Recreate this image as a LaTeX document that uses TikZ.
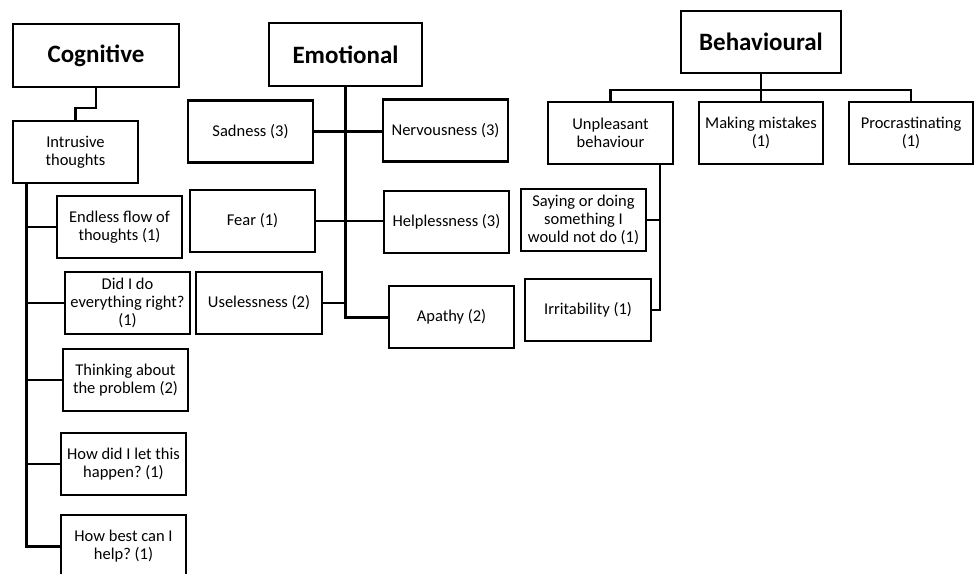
\documentclass[tikz,border=0pt]{standalone}
\usepackage{fontspec}
\setmainfont{Carlito}
\usetikzlibrary{positioning}
\frenchspacing

\begin{document}
\begin{tikzpicture}[x=1pt,y=-1pt,
  box/.style={draw,line width=2.2pt,minimum width=125pt,minimum height=62pt,inner sep=2pt,align=center,font=\fontsize{16.5}{18}\selectfont},
  title/.style={draw,line width=2.2pt,minimum height=63pt,font=\fontsize{25}{28}\selectfont\bfseries},
  link/.style={line width=2.2pt},
  trunk/.style={line width=3pt}]
\useasboundingbox (0,0) rectangle (974,573);

\node[title,minimum width=166pt] (cog) at (96,55.5) {Cognitive};
\node[title,minimum width=153pt] (emo) at (345.5,54.5) {Emotional};
\node[title,minimum width=160pt,minimum height=62pt] (beh) at (761,42) {Behavioural};

\node[box] (intr) at (75.5,152) {Intrusive\\thoughts};
\node[box] (endl) at (119.5,227) {Endless flow of\\thoughts (1)};
\node[box] (didi) at (127.5,303) {Did I do\\everything right?\\(1)};
\node[box] (think) at (125.5,380) {Thinking about\\the problem (2)};
\node[box] (howd) at (123.5,464) {How did I let this\\happen? (1)};
\node[box] (howb) at (123.5,546) {How best can I\\help? (1)};

\node[box] (sad) at (250.5,131.5) {Sadness (3)};
\node[box] (fear) at (252.5,221) {Fear (1)};
\node[box,minimum width=126pt] (usel) at (259,303) {Uselessness (2)};
\node[box] (nerv) at (445.5,130.5) {Nervousness (3)};
\node[box] (help) at (446.5,222) {Helplessness (3)};
\node[box] (apat) at (451.5,317) {Apathy (2)};

\node[box] (unpl) at (610.5,133) {Unpleasant\\behaviour};
\node[box,minimum width=124pt] (mist) at (761,133) {Making mistakes\\(1)};
\node[box,minimum width=124pt] (proc) at (911,133) {Procrastinating\\(1)};
\node[box] (say) at (583.5,220) {Saying or doing\\something I\\would not do (1)};
\node[box,minimum width=126pt] (irri) at (588,310) {Irritability (1)};

\coordinate (ct) at (26,0);
\coordinate (ut) at (660,0);

% cognitive
\draw[link] (cog.south) -- ++(0,20) -| (intr.north);
\draw[trunk] (intr.south -| ct) |- (howb.west);
\draw[link] (ct |- endl.west) -- (endl.west);
\draw[link] (ct |- didi.west) -- (didi.west);
\draw[link] (ct |- think.west) -- (think.west);
\draw[link] (ct |- howd.west) -- (howd.west);

% emotional
\draw[trunk] (emo.south) |- (apat.west);
\draw[link] (sad.east) -- (sad.east -| nerv.west);
\draw[link] (fear.east) -- (fear.east -| help.west);
\draw[link] (usel.east) -- (usel.east -| emo.south);

% behavioural
\draw[link] (beh.south) -- ++(0,16) -| (unpl.north);
\draw[link] (beh.south) -- (mist.north);
\draw[link] (beh.south) -- ++(0,16) -| (proc.north);
\draw[link] (unpl.south -| ut) |- (irri.east);
\draw[link] (say.east) -- (say.east -| ut);

\end{tikzpicture}
\end{document}
